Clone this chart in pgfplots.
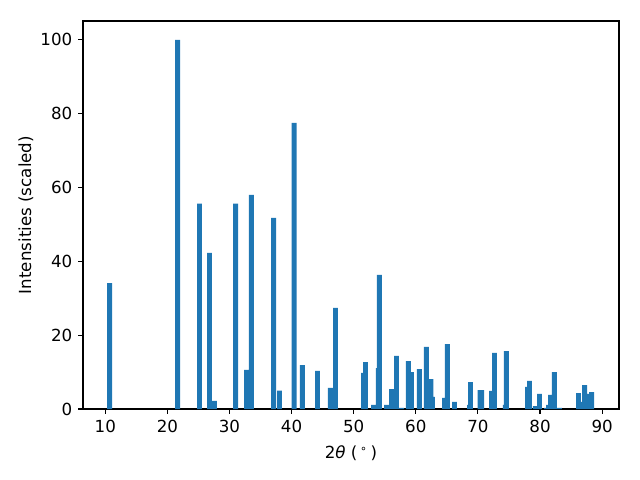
\documentclass[border=0pt]{standalone}
\usepackage{fontspec}
\setmainfont{DejaVu Sans}
\usepackage{pgfplots}
\pgfplotsset{compat=1.18}
\definecolor{c0}{HTML}{1F77B4}
\begin{document}
\fontsize{12pt}{14.4pt}\selectfont
\begin{tikzpicture}
\begin{axis}[
  scale only axis, width=385.92pt, height=279.36pt,
  xmin=6.41, xmax=92.72, ymin=0, ymax=105.1,
  xtick={10,20,...,90}, ytick={0,20,...,100},
  tick align=outside, tick pos=left, major tick length=3.5pt,
  axis line style={line width=0.8pt},
  every tick/.style={black, line width=0.8pt},
  /pgf/number format/assume math mode=true,
  ticklabel style={font=\fontsize{12pt}{14.4pt}\selectfont},
  label style={font=\fontsize{12pt}{14.4pt}\selectfont},
  xlabel={2\textit{θ} (\,\textsuperscript{∘}\,)},
  ylabel={Intensities (scaled)},
  ylabel shift=-3pt, xlabel shift=1.5pt,
  ybar, bar width=0.8, bar shift=0pt,
]
\addplot[fill=c0, draw=none] coordinates {
(10.68,34.1) (21.63,100) (25.17,55.6) (26.78,42.3) (27.58,2.2)
(30.97,55.6) (32.74,10.6) (33.54,58.0) (37.09,51.8) (38.05,5.0)
(40.39,77.5) (41.75,11.9) (44.17,10.3) (46.26,5.7) (47.07,27.4)
(51.58,9.8) (51.90,12.7) (53.19,1.1) (53.99,11.1) (54.15,36.3)
(55.28,1.1) (56.09,5.4) (56.89,14.4) (57.70,0.3) (58.82,13.0)
(59.30,10.0) (60.59,10.8) (61.72,16.8) (62.42,8.1) (62.69,3.3)
(64.62,3.0) (65.10,17.6) (66.23,1.9) (68.65,1.1) (68.81,7.3)
(70.35,5.1) (70.60,5.1) (72.19,4.9) (72.67,15.2) (74.44,1.1)
(74.60,15.7) (77.99,6.0) (78.31,7.6) (79.27,0.8) (79.92,4.1)
(81.05,0.3) (81.37,1.1) (81.69,3.8) (82.33,10.0) (83.14,0.3)
(86.20,4.3) (86.68,1.9) (87.17,6.5) (87.81,4.1) (88.30,4.6)
};
\end{axis}
\pgfresetboundingbox
\path (current axis.south west) ++(-59.76pt,-51.12pt) rectangle ++(460.8pt,345.6pt);
\end{tikzpicture}
\end{document}
